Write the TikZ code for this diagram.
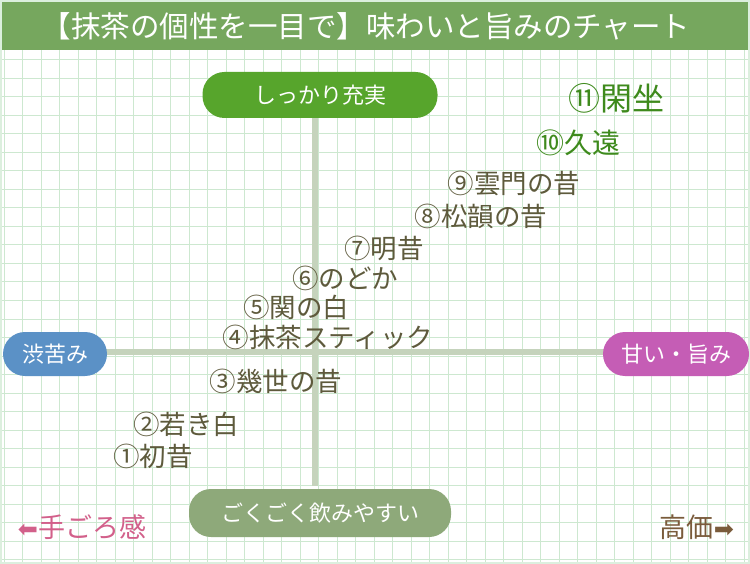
\documentclass[tikz,border=0pt]{standalone}
\usepackage{fontspec}
\setmainfont{Noto Sans CJK JP}
\newfontfamily\arrowfont{DejaVu Sans}
\definecolor{titlegreen}{HTML}{76A75E}
\definecolor{gridgreen}{HTML}{CDE8D0}
\definecolor{axisgray}{HTML}{C5D3BC}
\definecolor{topgreen}{HTML}{57A52C}
\definecolor{botgreen}{HTML}{8EA97A}
\definecolor{leftblue}{HTML}{5B91C6}
\definecolor{rightpink}{HTML}{C55DB5}
\definecolor{itemgray}{HTML}{5E5A3C}
\definecolor{itemgreen}{HTML}{3E8A1C}
\definecolor{cheappink}{HTML}{D2608A}
\definecolor{pricebrown}{HTML}{7A5B3B}
\tikzset{
  pill/.style={rounded corners=22pt, text=white, font=\fontsize{22}{22}\selectfont, inner sep=0pt},
  item/.style={text=itemgray, font=\fontsize{26.5}{26.5}\selectfont, inner sep=0pt},
  best/.style={text=itemgreen, inner sep=0pt}
}
\begin{document}
\begin{tikzpicture}[x=1pt,y=-1pt]
	\useasboundingbox (0,0) rectangle (750,564);
	\fill[white] (0,0) rectangle (750,564);
	
	\foreach \gx in {4,22.5,...,750} \draw[gridgreen, line width=1pt] (\gx,50) -- (\gx,564);
	\foreach \gy in {60,78.5,...,564} \draw[gridgreen, line width=1pt] (0,\gy) -- (750,\gy);
	\draw[gridgreen!70, line width=2pt] (1,1) rectangle (749,563);
	
	\fill[titlegreen] (2,2) rectangle (748,50);
	\node[text=white, font=\fontsize{29.5}{29.5}\selectfont] (title) at (366,26) {【抹茶の個性を一目で】味わいと旨みのチャート};
	
	\coordinate (vtop) at (315,118);
	\coordinate (vbot) at (315,486);
	\coordinate (hleft) at (106,352);
	\coordinate (hright) at (604,352);
	\draw[axisgray, line width=6pt] (vtop) -- (vbot);
	\draw[axisgray, line width=6pt] (hleft) -- (hright);
	
	\node[pill, fill=topgreen, minimum width=235pt, minimum height=46pt] (rich) at (320,95) {しっかり充実};
	\node[pill, fill=botgreen, minimum width=262pt, minimum height=48pt] (light) at (320,513) {ごくごく飲みやすい};
	\node[pill, fill=leftblue, minimum width=104pt, minimum height=44pt] (bitter) at (55,354) {渋苦み};
	\node[pill, fill=rightpink, minimum width=146pt, minimum height=44pt] (sweet) at (676,354) {甘い・旨み};
	
	\node[best, font=\fontsize{32}{32}\selectfont] (t11) at (616,98) {⑪閑坐};
	\node[best, font=\fontsize{28}{28}\selectfont] (t10) at (578,143) {⑩久遠};
	\node[item] (t9) at (514,183) {⑨雲門の昔};
	\node[item] (t8) at (481,216) {⑧松韻の昔};
	\node[item] (t7) at (384,248) {⑦明昔};
	\node[item] (t6) at (345,278) {⑥のどか};
	\node[item] (t5) at (296,307) {⑤関の白};
	\node[item] (t4) at (328,337) {④抹茶スティック};
	\node[item] (t3) at (276,381) {③幾世の昔};
	\node[item] (t2) at (186,424) {②若き白};
	\node[item] (t1) at (153,456) {①初昔};
	
	\node[text=cheappink, font=\fontsize{27}{27}\selectfont, inner sep=0pt] (cheap) at (82,527) {{\arrowfont\fontsize{24}{24}\selectfont ⬅}手ごろ感};
	\node[text=pricebrown, font=\fontsize{27}{27}\selectfont, inner sep=0pt] (price) at (697,527) {高価{\arrowfont\fontsize{24}{24}\selectfont ➡}};
\end{tikzpicture}
\end{document}
